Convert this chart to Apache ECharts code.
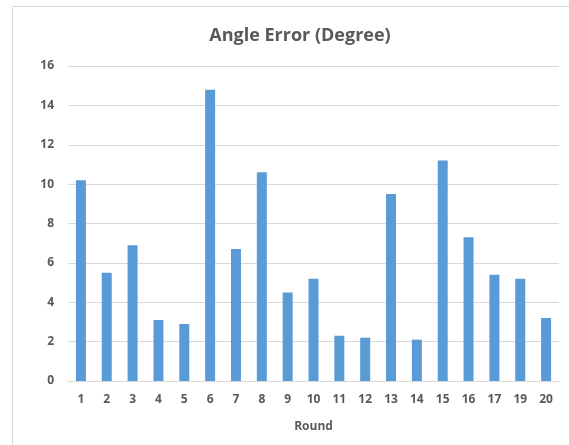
<!DOCTYPE html>
<html><head><meta charset="utf-8">
<script src="https://cdn.jsdelivr.net/npm/echarts@6/dist/echarts.min.js"></script>
<style>html,body{margin:0;padding:0;background:#fff}#c{width:569px;height:445px}</style>
</head><body><div id="c"></div>
<script>
const rounds = ['1','2','3','4','5','6','7','8','9','10','11','12','13','14','15','16','17','19','20'];
const angleError = [10.2,5.5,6.9,3.1,2.9,14.8,6.7,10.6,4.5,5.2,2.3,2.2,9.5,2.1,11.2,7.3,5.4,5.2,3.2];
const yTicks = {min:0, max:16, interval:2};
const chart = echarts.init(document.getElementById('c'));
chart.setOption({
  animation:false,
  graphic:[{type:'rect',shape:{x:12.5,y:6.5,width:600,height:500},style:{fill:'none',stroke:'#d9d9d9',lineWidth:1},silent:true}],
  title:{text:'Angle Error (Degree)',left:295,top:22,textAlign:'center',
    textStyle:{fontFamily:'Open Sans',fontSize:18,fontWeight:'bold',color:'#595959'}},
  grid:{left:68,right:10,top:66,bottom:64},
  xAxis:{type:'category',data:rounds,name:'Round',nameLocation:'middle',nameGap:40,
    nameTextStyle:{fontFamily:'Open Sans',fontSize:12,fontWeight:'bold',color:'#595959'},
    axisLine:{lineStyle:{color:'#d9d9d9'}},axisTick:{show:false},
    axisLabel:{fontFamily:'Open Sans',fontSize:12,fontWeight:'bold',color:'#595959',margin:13,interval:0}},
  yAxis:{type:'value',min:yTicks.min,max:yTicks.max,interval:yTicks.interval,
    axisLine:{show:false},axisTick:{show:false},
    splitLine:{lineStyle:{color:'#d9d9d9'}},
    axisLabel:{fontFamily:'Open Sans',fontSize:12,fontWeight:'bold',color:'#595959',margin:14}},
  series:[{type:'bar',data:angleError,barWidth:10,itemStyle:{color:'#5B9BD5'}}]
});
</script></body></html>
